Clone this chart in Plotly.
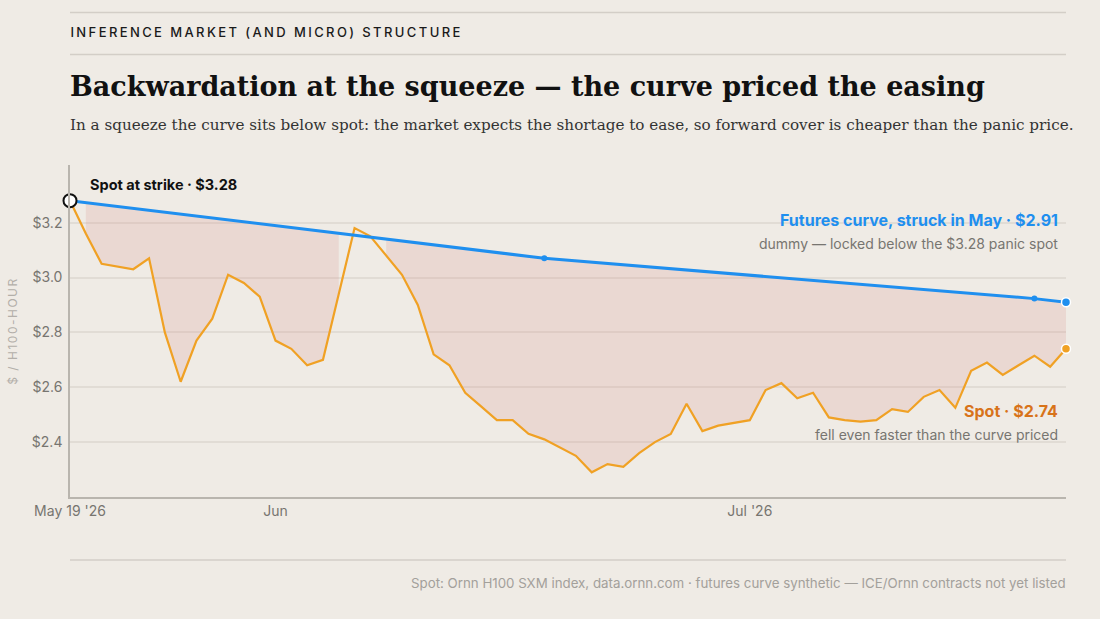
import numpy as np
import pandas as pd
import plotly.graph_objects as go

# daily spot index, May 19 '26 onward
spot_start = "2026-05-19"
spot_values = [
    3.28, 3.16, 3.05, 3.04, 3.03, 3.07, 2.80, 2.62, 2.77, 2.85,
    3.01, 2.98, 2.93, 2.77, 2.74, 2.68, 2.70, 2.94, 3.18, 3.15,
    3.08, 3.01, 2.90, 2.72, 2.68, 2.58, 2.53, 2.48, 2.48, 2.43,
    2.41, 2.38, 2.35, 2.29, 2.32, 2.31, 2.36, 2.40, 2.43, 2.54,
    2.44, 2.46, 2.47, 2.48, 2.59, 2.615, 2.56, 2.58, 2.49, 2.48,
    2.475, 2.48, 2.52, 2.51, 2.565, 2.59, 2.525, 2.66, 2.69, 2.645,
    2.68, 2.715, 2.675, 2.74,
]

# futures curve struck in May (contract points)
futures_dates = ["2026-05-19", "2026-06-18", "2026-07-19", "2026-07-21"]
futures_values = [3.28, 3.07, 2.923, 2.91]

y_ticks = [2.4, 2.6, 2.8, 3.0, 3.2]
x_ticks = ["2026-05-19", "2026-06-01", "2026-07-01"]
x_tick_labels = ["May 19 '26", "Jun", "Jul '26"]

BG = "#efebe5"
BLUE = "#1f8fef"
ORANGE = "#f0a124"
ORANGE_TXT = "#d8731a"
GREY = "#777570"
LIGHT = "#a3a09b"
SANS = "Inter, Roboto, sans-serif"
SERIF = "DejaVu Serif, serif"

spot_dates = pd.date_range(spot_start, periods=len(spot_values), freq="D")
spot = np.array(spot_values)
fut_ts = pd.to_datetime(futures_dates).astype("int64")
curve_at_spot = np.interp(spot_dates.astype("int64"), fut_ts, futures_values)

fig = go.Figure()

# shaded gap where spot sits below the curve (segments with both ends below)
below = spot < curve_at_spot - 1e-6
runs = []
i = 0
while i < len(spot):
    if below[i]:
        j = i
        while j + 1 < len(spot) and below[j + 1]:
            j += 1
        if j > i:
            runs.append((i, j))
        i = j + 1
    else:
        i += 1
for a, b in runs:
    xs = list(spot_dates[a:b + 1]) + list(spot_dates[a:b + 1][::-1])
    ys = list(curve_at_spot[a:b + 1]) + list(spot[a:b + 1][::-1])
    fig.add_trace(go.Scatter(
        x=xs, y=ys, fill="toself", mode="none",
        fillcolor="rgba(214,140,135,0.2)", hoverinfo="skip", showlegend=False))

fig.add_trace(go.Scatter(
    x=spot_dates, y=spot, mode="lines",
    line=dict(color=ORANGE, width=2.2), showlegend=False))

fig.add_trace(go.Scatter(
    x=futures_dates, y=futures_values, mode="lines",
    line=dict(color=BLUE, width=3), showlegend=False))

fig.add_trace(go.Scatter(
    x=futures_dates[1:3], y=futures_values[1:3], mode="markers",
    marker=dict(color=BLUE, size=6), showlegend=False, cliponaxis=False))

fig.add_trace(go.Scatter(
    x=[futures_dates[-1]], y=[futures_values[-1]], mode="markers",
    marker=dict(color=BLUE, size=9, line=dict(color="white", width=1.5)),
    showlegend=False, cliponaxis=False))

fig.add_trace(go.Scatter(
    x=[spot_dates[-1]], y=[spot[-1]], mode="markers",
    marker=dict(color=ORANGE, size=9, line=dict(color="white", width=1.5)),
    showlegend=False, cliponaxis=False))

fig.add_trace(go.Scatter(
    x=[spot_dates[0]], y=[spot[0]], mode="markers",
    marker=dict(color="white", size=13, line=dict(color="#111111", width=2)),
    showlegend=False, cliponaxis=False))

fig.update_layout(
    width=1100, height=619,
    paper_bgcolor=BG, plot_bgcolor=BG,
    margin=dict(l=70, r=34, t=165, b=122),
    font=dict(family=SANS, color=GREY),
    xaxis=dict(
        type="date",
        range=[spot_dates[0], spot_dates[-1]],
        tickvals=x_ticks, ticktext=x_tick_labels,
        showgrid=False, zeroline=False,
        showline=True, linecolor="#b9b5ae", linewidth=1.5,
        ticks="", tickfont=dict(size=14, color=GREY),
    ),
    yaxis=dict(
        range=[2.2, 3.41],
        tickvals=y_ticks, ticktext=[f"${v:.1f}" for v in y_ticks],
        showgrid=True, gridcolor="#e1dcd5", gridwidth=1.5, zeroline=False,
        showline=True, linecolor="#b9b5ae", linewidth=1.5,
        ticks="", tickfont=dict(size=14, color=GREY), ticklabelstandoff=3,
        title=dict(text="$ / H100-HOUR", font=dict(size=12, color="#b3afa9"), standoff=12),
    ),
)

ann = [
    dict(x=114, y=32, text="INFERENCE MARKET (AND MICRO) STRUCTURE",
         font=dict(family=SANS, size=13, color="#1a1a1a", weight=500), xanchor="left"),
    dict(x=68, y=87, text="<b>Backwardation at the squeeze — the curve priced the easing</b>",
         font=dict(family=SERIF, size=27, color="#111111"), xanchor="left"),
    dict(x=68, y=125, text="In a squeeze the curve sits below spot: the market expects the shortage to ease, so forward cover is cheaper than the panic price.",
         font=dict(family=SERIF, size=15.2, color="#333333"), xanchor="left"),
    dict(x=1068, y=583, text="Spot: Ornn H100 SXM index, data.ornn.com · futures curve synthetic — ICE/Ornn contracts not yet listed",
         font=dict(family=SANS, size=13.3, color=LIGHT), xanchor="right"),
    dict(x=88, y=184, text="<b>Spot at strike · $3.28</b>",
         font=dict(family=SANS, size=14.5, color="#111111"), xanchor="left"),
    dict(x=1060, y=220, text="<b>Futures curve, struck in May · $2.91</b>",
         font=dict(family=SANS, size=16, color=BLUE), xanchor="right"),
    dict(x=1060, y=243, text="dummy — locked below the $3.28 panic spot",
         font=dict(family=SANS, size=14, color=GREY), xanchor="right"),
    dict(x=1060, y=411, text="<b>Spot · $2.74</b>",
         font=dict(family=SANS, size=16, color=ORANGE_TXT), xanchor="right"),
    dict(x=1060, y=434, text="fell even faster than the curve priced",
         font=dict(family=SANS, size=14, color=GREY), xanchor="right"),
]
for a in ann:
    fig.add_annotation(xref="paper", yref="paper",
                       x=(a["x"] - 70) / 996, y=1 - (a["y"] - 165) / 332,
                       text=a["text"], font=a["font"], xanchor=a["xanchor"],
                       yanchor="middle", showarrow=False)

for y in [12.5, 54.5, 560]:
    fig.add_shape(type="line", xref="paper", yref="paper",
                  x0=0, x1=1, y0=1 - (y - 165) / 332, y1=1 - (y - 165) / 332,
                  line=dict(color="#d3cec7", width=1.5))

# page has a default 8px body margin; remove it, and letter-space the kicker / axis title
js = """
document.body.style.margin = '0';
document.querySelectorAll('.annotation-text').forEach(function (t) {
  if (t.textContent.indexOf('INFERENCE') === 0) { t.style.letterSpacing = '2.4px'; }
});
document.querySelectorAll('.ytitle').forEach(function (t) { t.style.letterSpacing = '1.5px'; });
"""
fig.write_html("out.html", post_script=js, config={"displayModeBar": False})
